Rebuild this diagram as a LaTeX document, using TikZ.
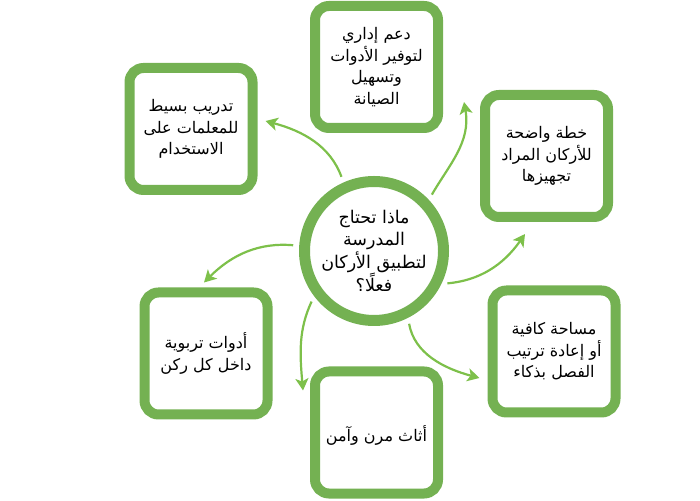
\documentclass[tikz,border=0pt]{standalone}
\usepackage{fontspec}
\usepackage{xcolor}
\usetikzlibrary{arrows.meta}
\newfontfamily\arabicfont[Script=Arabic]{DejaVu Sans}
\TeXXeTstate=1
\newcommand\arline[1]{\beginR #1\endR}
\definecolor{RingGreen}{HTML}{74B152}
\definecolor{FlowGreen}{HTML}{7DC04A}

\begin{document}
\begin{tikzpicture}[x=1pt,y=1pt,
  card/.style={draw=RingGreen,line width=10pt,fill=white,rounded corners=14pt,minimum width=123pt,minimum height=122pt,inner sep=2pt,align=center,font=\arabicfont\fontsize{16}{21.5}\selectfont},
  hub/.style={circle,draw=RingGreen,line width=11pt,fill=white,minimum size=139pt,inner sep=0pt,align=center,font=\arabicfont\fontsize{17.5}{22.5}\selectfont},
  flow/.style={draw=FlowGreen,line width=2.2pt,-{Stealth[length=12pt,width=13pt,inset=3pt]},shorten <=6pt}]
\useasboundingbox (0,0) rectangle (700,500);
% centre
\node[hub] (hub) at (374,249) {\arline{ماذا تحتاج}\\\arline{المدرسة}\\\arline{لتطبيق الأركان}\\\arline{فعلًا؟}};
% needs
\node[card] (admin) at (376.5,433) {\arline{دعم إداري}\\\arline{لتوفير الأدوات}\\\arline{وتسهيل}\\\arline{الصيانة}};
\node[card] (plan) at (546.5,344) {\arline{خطة واضحة}\\\arline{للأركان المراد}\\\arline{تجهيزها}};
\node[card] (train) at (191,371) {\arline{تدريب بسيط}\\\arline{للمعلمات على}\\\arline{الاستخدام}};
\node[card] (tools) at (206,146.5) {\arline{أدوات تربوية}\\\arline{داخل كل ركن}};
\node[card] (furn) at (376.5,67.5) {\\\arline{أثاث مرن وآمن}};
\node[card] (space) at (554,148.5) {\arline{مساحة كافية}\\\arline{أو إعادة ترتيب}\\\arline{الفصل بذكاء}};
% arrows
\draw[flow] (hub.114) to[out=110,in=-15] ([shift={(8,8)}]train.east);
\draw[flow] (hub.43) to[out=60,in=-80] ([shift={(21,-35)}]admin.east);
\draw[flow] (hub.-26) to[out=5,in=-125] ([shift={(-21.5,-12)}]plan.south);
\draw[flow] (hub.-63) to[out=-80,in=165] ([shift={(-8,-26.5)}]space.west);
\draw[flow] (hub.217) to[out=-115,in=95] ([shift={(-7,-24)}]furn.north west);
\draw[flow] (hub.176) to[out=175,in=45] ([shift={(-2,5)}]tools.north);
\end{tikzpicture}
\end{document}
